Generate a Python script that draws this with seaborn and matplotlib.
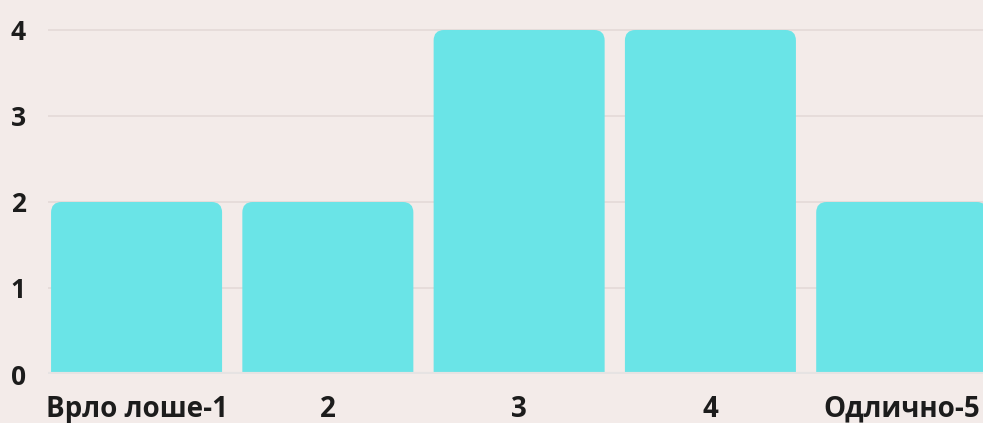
import matplotlib
matplotlib.use("Agg")
import matplotlib.pyplot as plt
import seaborn as sns
import pandas as pd
from matplotlib.patches import FancyBboxPatch

categories = ["Врло лоше-1", "2", "3", "4", "Одлично-5"]
counts = [2, 2, 4, 4, 2]
yticks = [0, 1, 2, 3, 4]

bg = "#f3ebe9"
bar_color = "#6ae4e7"

sns.set_theme(style="white")
plt.rcParams["font.family"] = ["Open Sans", "DejaVu Sans"]

df = pd.DataFrame({"rating": categories, "count": counts})

fig = plt.figure(figsize=(9.83, 4.23), dpi=100, facecolor=bg)
ax = fig.add_axes([48 / 983, 1 - 374 / 423, 935 / 983, 349 / 423])
ax.set_facecolor(bg)

sns.barplot(data=df, x="rating", y="count", color=bar_color, width=0.894,
            saturation=1, ax=ax, zorder=3)

# swap the square bars for rounded ones
for p in list(ax.patches):
    x, w, h = p.get_x(), p.get_width(), p.get_height()
    rb = FancyBboxPatch((x, -0.2), w, h + 0.2,
                        boxstyle="round,pad=0,rounding_size=0.055",
                        mutation_aspect=191.3 / 86,
                        facecolor=bar_color, edgecolor="none", zorder=3)
    p.remove()
    ax.add_patch(rb)

ax.set_xlim(-0.463, 4.425)
ax.set_ylim(0, 4.058)
ax.set_yticks(yticks)
ax.yaxis.grid(True, color="#e4d9d7", linewidth=1.2, zorder=0)
ax.axhline(0, color="#e6e3e3", linewidth=3, zorder=4)
for s in ax.spines.values():
    s.set_visible(False)

ax.set_xlabel("")
ax.set_ylabel("")
ax.tick_params(axis="both", length=0, labelcolor="#1c1c1c")
ax.tick_params(axis="y", pad=16, labelsize=19)
ax.tick_params(axis="x", pad=15, labelsize=20)
for lab in ax.get_xticklabels() + ax.get_yticklabels():
    lab.set_fontweight("bold")

fig.savefig("out.png", dpi=100, facecolor=bg)
